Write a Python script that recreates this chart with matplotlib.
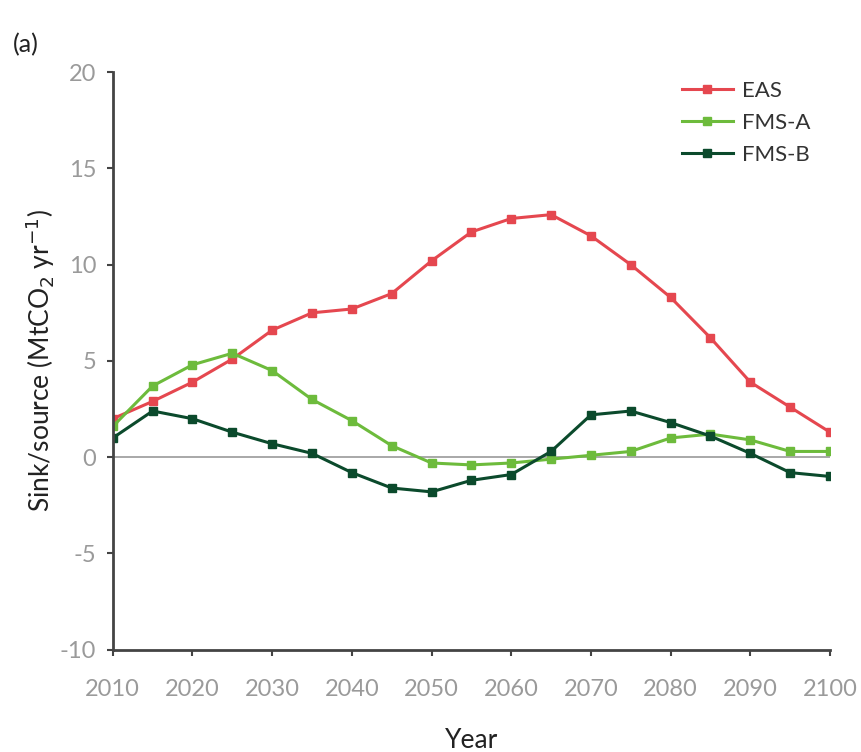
import numpy as np
import matplotlib
matplotlib.use("Agg")
import matplotlib.pyplot as plt

years = np.arange(2010, 2101, 5)
eas = [2.0, 2.9, 3.9, 5.1, 6.6, 7.5, 7.7, 8.5, 10.2, 11.7, 12.4, 12.6,
       11.5, 10.0, 8.3, 6.2, 3.9, 2.6, 1.3]
fms_a = [1.6, 3.7, 4.8, 5.4, 4.5, 3.0, 1.9, 0.6, -0.3, -0.4, -0.3, -0.1,
         0.1, 0.3, 1.0, 1.2, 0.9, 0.3, 0.3]
fms_b = [1.0, 2.4, 2.0, 1.3, 0.7, 0.2, -0.8, -1.6, -1.8, -1.2, -0.9, 0.3,
         2.2, 2.4, 1.8, 1.1, 0.2, -0.8, -1.0]

plt.rcParams['font.family'] = ['Lato', 'DejaVu Sans']
plt.rcParams['axes.unicode_minus'] = False

fig = plt.figure(figsize=(8.61, 7.52), dpi=100)
ax = fig.add_axes([0.131, 0.136, 0.833, 0.768])

ax.axhline(0, color='#9a9a9a', lw=1.2, zorder=1)
ax.plot(years, eas, color='#e5474f', marker='s', ms=5.5, lw=2.2, label='EAS')
ax.plot(years, fms_a, color='#6dbb3c', marker='s', ms=5.5, lw=2.2, label='FMS-A')
ax.plot(years, fms_b, color='#0b4a2c', marker='s', ms=5.5, lw=2.2, label='FMS-B')

ax.set_xlim(2010, 2100)
ax.set_ylim(-10, 20)
ax.set_xticks(np.arange(2010, 2101, 10))
ax.set_yticks(np.arange(-10, 21, 5))
ax.spines['top'].set_visible(False)
ax.spines['right'].set_visible(False)
for s in ['left', 'bottom']:
    ax.spines[s].set_color('#444444')
    ax.spines[s].set_linewidth(2)
ax.tick_params(direction='out', length=4, width=1.5, color='#444444',
               labelsize=17, labelcolor='#9a9a9a')
ax.tick_params(axis='x', pad=17)
ax.tick_params(axis='y', pad=8)

ax.set_xlabel('Year', fontsize=19, color='#222222', labelpad=20)
ax.set_ylabel('Sink/source (MtCO$_2$ yr$^{-1}$)', fontsize=19,
              color='#222222', labelpad=2)

ax.legend(loc='upper right', bbox_to_anchor=(1.0, 1.02), frameon=False,
          fontsize=16, handlelength=2.3, handletextpad=0.4,
          labelspacing=0.55, labelcolor='#333333')

fig.text(0.015, 0.94, '(a)', fontsize=18, color='#222222', va='center')

fig.savefig('out.png', dpi=100)
